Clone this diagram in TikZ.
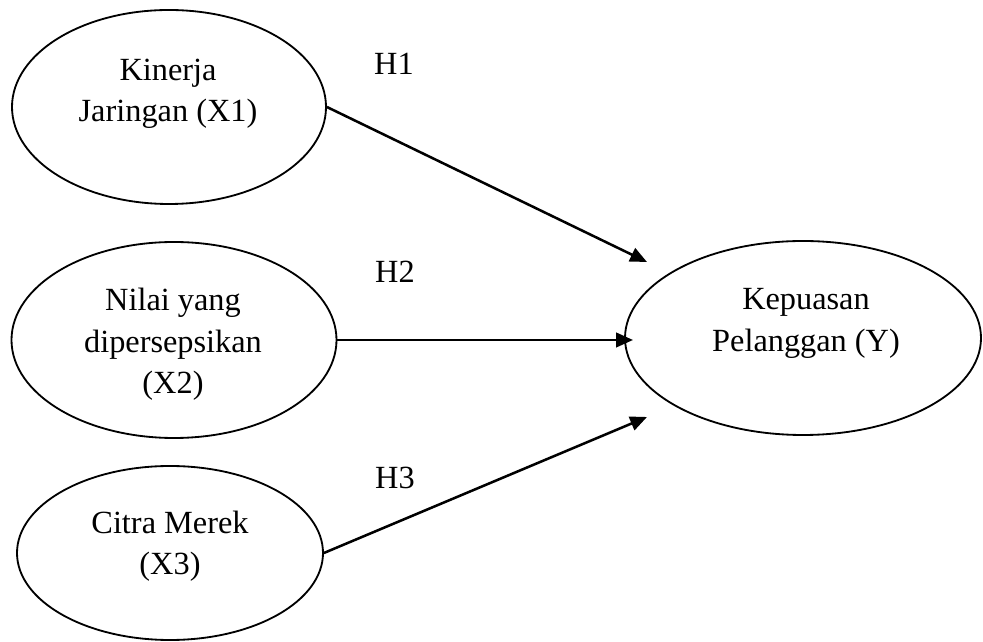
\documentclass[tikz,border=0pt]{standalone}
\usepackage{fontspec}
\setmainfont{Liberation Serif}
\usetikzlibrary{shapes.geometric,arrows.meta,positioning,calc}

\tikzset{
  var/.style={draw, ellipse, line width=1.3pt, inner sep=0pt},
  vartxt/.style={align=center, inner sep=0pt, font=\fontsize{23}{29.5}\selectfont},
  hlab/.style={inner sep=0pt, font=\fontsize{23}{29.5}\selectfont},
  hyp/.style={line width=1.8pt, -{Triangle[length=0.42cm, width=0.36cm]}}
}

\begin{document}
\begin{tikzpicture}
      \useasboundingbox (0,0) rectangle (24.575,16.025);
      % Variables
      \node[var, minimum width=7.85cm, minimum height=4.85cm] (x1) at (4.225,13.35) {};
      \node[var, minimum width=8.125cm, minimum height=4.9cm] (x2) at (4.35,7.525) {};
      \node[var, minimum width=7.65cm, minimum height=4.35cm] (x3) at (4.25,2.2) {};
      \node[var, minimum width=8.9cm, minimum height=4.85cm] (y) at (20.075,7.575) {};
      \node[vartxt] (x1txt) at (4.2,13.675) {Kinerja\\Jaringan (X1)};
      \node[vartxt] (x2txt) at (4.325,7.41) {Nilai yang\\dipersepsikan\\(X2)};
      \node[vartxt] (x3txt) at (4.25,2.375) {Citra Merek\\(X3)};
      \node[vartxt] (ytxt) at (20.15,7.94) {Kepuasan\\Pelanggan (Y)};
      % Hypotheses
      \coordinate (h1tip) at (16.175,9.475);
      \coordinate (h2tip) at (15.825,7.525);
      \coordinate (h3tip) at (16.175,5.6);
      \draw[hyp] (x1.east) -- (h1tip);
      \draw[hyp] (x2.east) -- (h2tip);
      \draw[hyp] (x3.east) -- (h3tip);
      \node[hlab] (h1) at (9.85,14.425) {H1};
      \node[hlab] (h2) at (9.875,9.225) {H2};
      \node[hlab] (h3) at (9.875,4.075) {H3};
    \end{tikzpicture}
\end{document}
